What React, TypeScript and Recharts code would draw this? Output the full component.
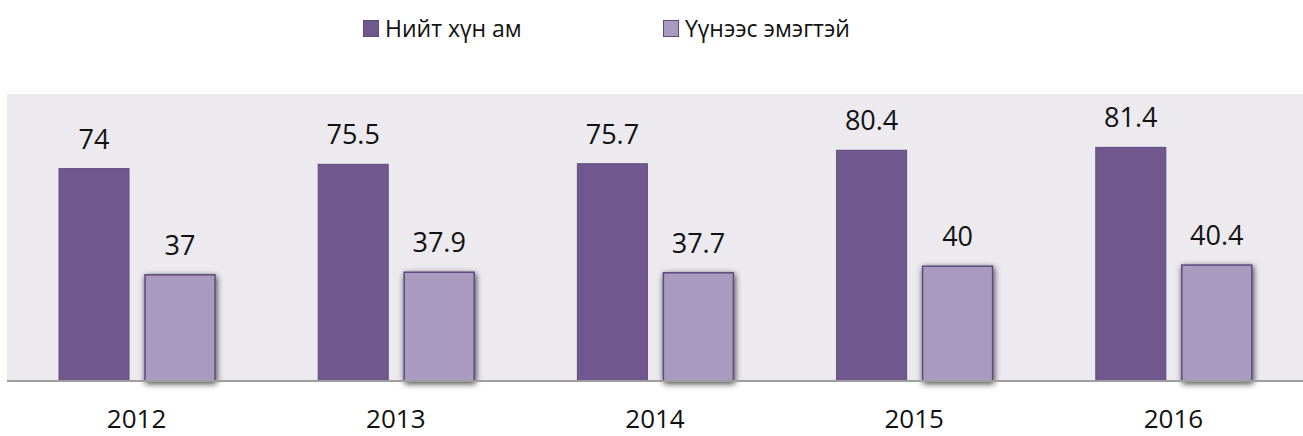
import React from 'react';
import { BarChart, Bar, XAxis, YAxis, CartesianGrid, LabelList } from 'recharts';

const years = ['2012', '2013', '2014', '2015', '2016'];
const totalPop = [74, 75.5, 75.7, 80.4, 81.4];
const femalePop = [37, 37.9, 37.7, 40, 40.4];
const seriesNames = ['Нийт хүн ам', 'Үүнээс эмэгтэй'];

const COLORS = ['#70588F', '#A99ABF'];
const FONT = '"Open Sans", "DejaVu Sans", sans-serif';

const data = years.map((year, i) => ({
    year,
    total: totalPop[i],
    female: femalePop[i],
}));

const ShadowBar = (props: any) => {
    const { x, y, width, height, fill } = props;
    return (
        <rect
            x={x}
            y={y}
            width={width}
            height={height}
            fill={fill}
            stroke="#5E4A7E"
            strokeWidth={1.5}
            filter="url(#barShadow)"
        />
    );
};

const PlainBar = (props: any) => {
    const { x, y, width, height, fill } = props;
    return <rect x={x} y={y} width={width} height={height} fill={fill} stroke="#5E4A7E" strokeWidth={1} />;
};

const App: React.FC = () => {
    return (
        <div style={{ position: 'absolute', left: 0, top: 0, width: 1303, height: 436, background: '#fff', fontFamily: FONT }}>
            <div style={{ position: 'absolute', top: 12, left: 0, width: 1303, height: 36 }}>
                {seriesNames.map((name, i) => (
                    <div
                        key={name}
                        style={{
                            position: 'absolute',
                            left: i === 0 ? 363 : 663,
                            top: 0,
                            display: 'flex',
                            alignItems: 'center',
                            fontSize: 23,
                            color: '#111',
                            whiteSpace: 'nowrap',
                        }}
                    >
                        <span
                            style={{
                                display: 'inline-block',
                                width: 14,
                                height: 15,
                                background: COLORS[i],
                                border: '1px solid #5E4A7E',
                                marginRight: 6,
                            }}
                        />
                        {name}
                    </div>
                ))}
            </div>
            <BarChart
                width={1303}
                height={436}
                data={data}
                margin={{ top: 94, right: 0, bottom: 0, left: 7 }}
                barSize={70}
                barGap={16}
            >
                <defs>
                    <filter id="barShadow" x="-25%" y="-10%" width="150%" height="130%">
                        <feDropShadow dx="1" dy="2" stdDeviation="3" floodColor="#000" floodOpacity="0.75" />
                    </filter>
                </defs>
                <CartesianGrid horizontal={false} vertical={false} fill="#ECE9EF" />
                <YAxis hide domain={[0, 100]} />
                <XAxis
                    dataKey="year"
                    height={55}
                    tickLine={false}
                    axisLine={{ stroke: '#9E9E9E', strokeWidth: 2 }}
                    tick={{ fill: '#111', fontSize: 26, fontFamily: FONT }}
                    tickMargin={23}
                />
                <Bar dataKey="total" fill={COLORS[0]} isAnimationActive={false} shape={PlainBar}>
                    <LabelList dataKey="total" position="top" offset={20} fill="#111" fontSize={27} fontFamily={FONT} />
                </Bar>
                <Bar dataKey="female" fill={COLORS[1]} isAnimationActive={false} shape={ShadowBar}>
                    <LabelList dataKey="female" position="top" offset={20} fill="#111" fontSize={27} fontFamily={FONT} />
                </Bar>
            </BarChart>
        </div>
    );
};

export default App;
